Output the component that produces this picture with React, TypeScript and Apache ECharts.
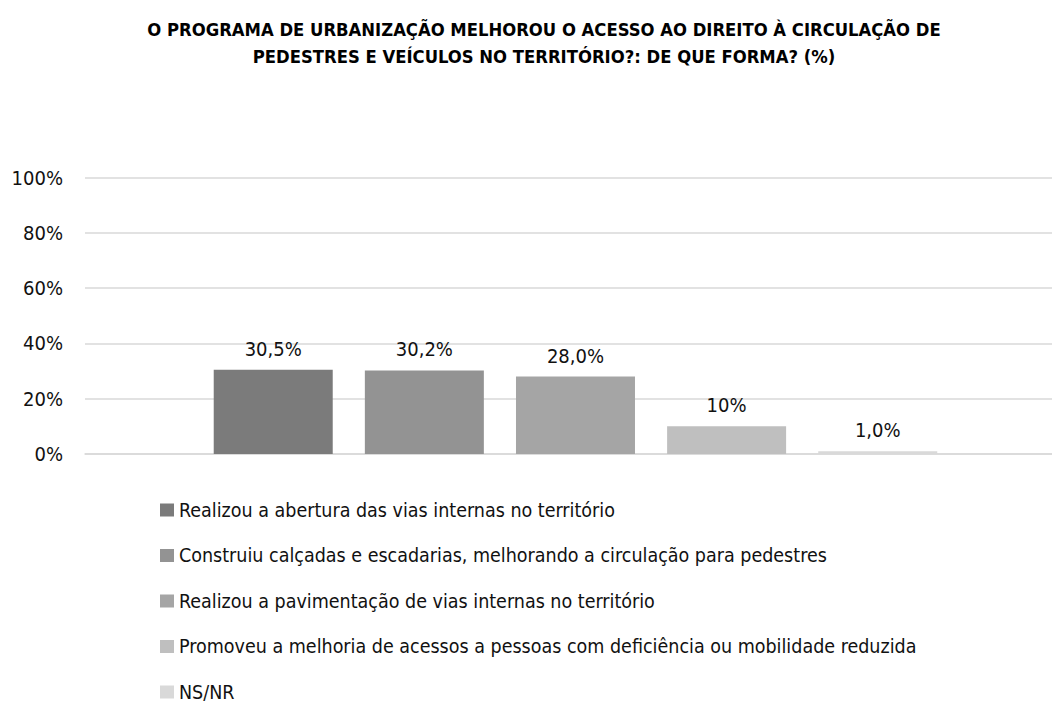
import React, { useEffect, useRef } from "react";
import * as echarts from "echarts";

const seriesNames = [
  "Realizou a abertura das vias internas no território",
  "Construiu calçadas e escadarias, melhorando a circulação para pedestres",
  "Realizou a pavimentação de vias internas no território",
  "Promoveu a melhoria de acessos a pessoas com deficiência ou mobilidade reduzida",
  "NS/NR",
];
const values = [30.5, 30.2, 28.0, 10, 1.0];
const valueLabels = ["30,5%", "30,2%", "28,0%", "10%", "1,0%"];
const colors = ["#7b7b7b", "#939393", "#a5a5a5", "#bfbfbf", "#d9d9d9"];
const category = [""];

const FONT = "'DejaVu Sans Condensed', 'Liberation Sans Narrow', sans-serif";

export default function App() {
  const ref = useRef<HTMLDivElement>(null);
  useEffect(() => {
    document.body.style.margin = "0";
    const chart = echarts.init(ref.current!, null, { renderer: "svg" });
    const bars = seriesNames.map((name, i) => ({
      name,
      type: "bar",
      data: [values[i]],
      barWidth: 119,
      barGap: "27%",
      itemStyle: { color: colors[i] },
      label: {
        show: true,
        position: "top",
        distance: 11,
        formatter: () => valueLabels[i],
        fontFamily: FONT,
        fontSize: 20,
        color: "#111",
      },
    }));
    chart.setOption({
      animation: false,
      backgroundColor: "#ffffff",
      title: {
        text: "O PROGRAMA DE URBANIZAÇÃO MELHOROU O ACESSO AO DIREITO À CIRCULAÇÃO DE\nPEDESTRES E VEÍCULOS NO TERRITÓRIO?: DE QUE FORMA? (%)",
        left: 539,
        top: 11,
        textAlign: "center",
        textStyle: {
          fontFamily: FONT,
          fontWeight: "bold",
          fontSize: 18.3,
          lineHeight: 27,
          color: "#000",
        },
      },
      grid: { left: 85, right: 0, top: 177.5, bottom: 704 - 454, containLabel: false },
      legend: {
        orient: "vertical",
        left: 160,
        top: 500,
        height: 220,
        padding: 0,
        itemWidth: 14,
        itemHeight: 13,
        itemGap: 25.5,
        icon: "rect",
        textStyle: { fontFamily: FONT, fontSize: 19.5, color: "#111" },
        data: seriesNames,
      },
      xAxis: {
        type: "category",
        data: category,
        axisLine: { show: true, lineStyle: { color: "#d9d9d9", width: 1.5 } },
        axisTick: { show: false },
        axisLabel: { show: false },
      },
      yAxis: {
        type: "value",
        min: 0,
        max: 100,
        interval: 20,
        axisLine: { show: false },
        axisTick: { show: false },
        axisLabel: {
          formatter: "{value}%",
          fontFamily: FONT,
          fontSize: 20,
          color: "#111",
          margin: 22,
        },
        splitLine: { lineStyle: { color: "#d9d9d9", width: 1.5 } },
      },
      series: [
        {
          name: "spacer",
          type: "bar",
          data: [0],
          barWidth: 11,
          barGap: "27%",
          silent: true,
          itemStyle: { color: "rgba(0,0,0,0)" },
          label: { show: false },
        },
        ...bars,
      ],
    });
    return () => chart.dispose();
  }, []);
  return <div ref={ref} style={{ width: 1052, height: 704 }} />;
}
